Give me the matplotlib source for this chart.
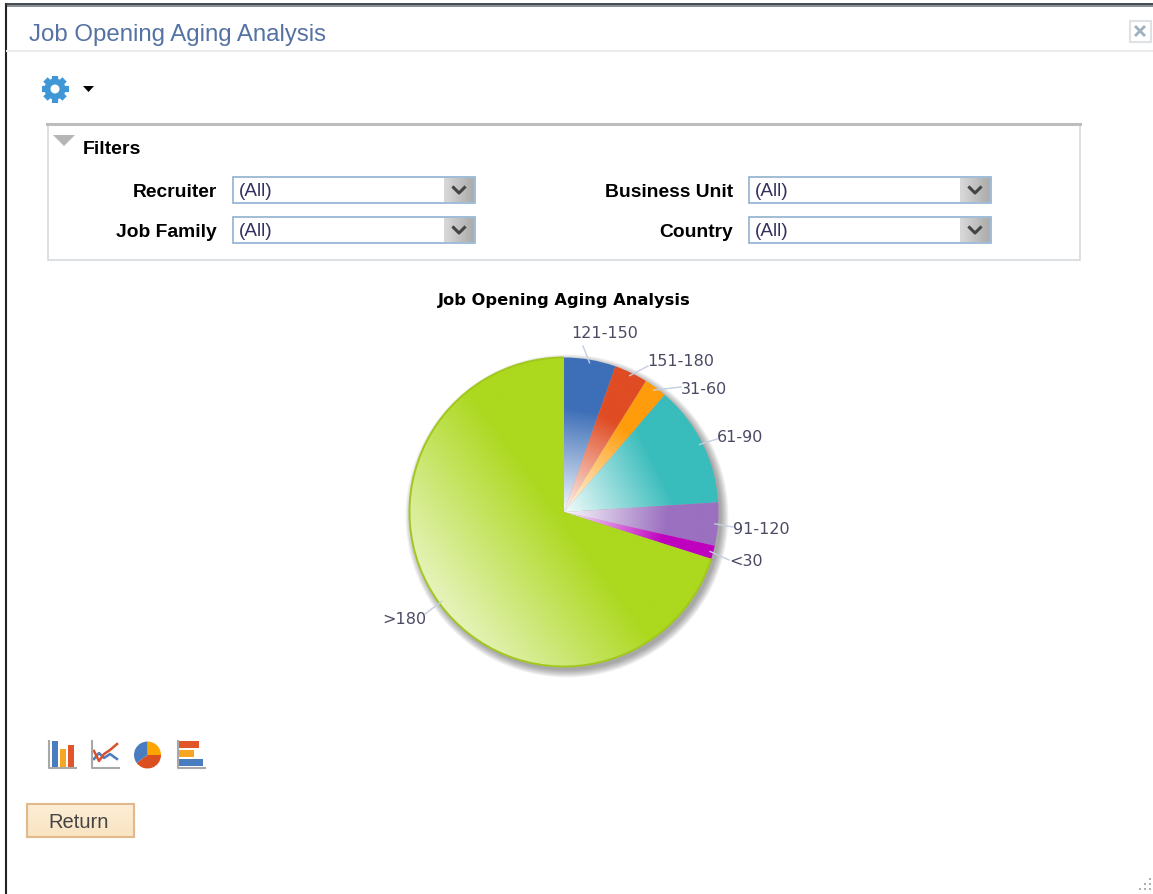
# Job Opening Aging Analysis page, pie chart plus the surrounding form
import numpy as np
import matplotlib
matplotlib.use('Agg')
import matplotlib.pyplot as plt
from matplotlib.colors import LinearSegmentedColormap, to_rgb
from matplotlib.patches import Arc, Circle, Polygon, Rectangle, Wedge

W, H = 1153, 895

# chart data
bucket_labels = ['121-150', '151-180', '31-60', '61-90', '91-120', '<30', '>180']
bucket_values = [5.4, 3.5, 2.4, 12.7, 4.5, 1.4, 70.1]
bucket_colors = ['#3d6fb8', '#e04c24', '#ff9c0c', '#39bcbc', '#9b70c0', '#bf00bf', '#acd81e']

# page text
page_title = 'Job Opening Aging Analysis'
filter_names_left = ['Recruiter', 'Job Family']
filter_names_right = ['Business Unit', 'Country']
filter_value = '(All)'

# little chart type icons under the pie
icon_bar_heights = [26, 18, 22]
icon_bar_colors = ['#4a7cc0', '#f5a623', '#e0562a']
icon_line_a = [8, 14, 9, 13, 8]
icon_line_b = [16, 6, 13, 17, 23]
icon_pie_values = [25, 40, 35]
icon_pie_colors = ['#ffa500', '#dc4f20', '#4a7cc0']
icon_hbar_lengths = [20, 15, 24]
icon_hbar_colors = ['#e0562a', '#f5a623', '#4a7cc0']

CX, CY, R = 564, 513, 154.5

fig = plt.figure(figsize=(W / 100, H / 100), dpi=100)
ax = fig.add_axes([0, 0, 1, 1])


def py(y):
    # screenshot pixels count from the top
    return H - y


def box(x0, y0, x1, y1, **kw):
    ax.add_patch(Rectangle((x0, py(y1)), x1 - x0, y1 - y0, **kw))


def ui_text(x, y, s, size, color='black', weight='normal', ha='left'):
    # 1.8 px: Liberation sits high with va=center
    ax.text(x, py(y + 1.8), s, fontsize=size, color=color, fontweight=weight, ha=ha, va='center',
            family='Liberation Sans', zorder=6)


# shadow goes first, under the pie
for i in range(10):
    ax.add_patch(Circle((CX + 3, py(CY) - 4), R + 7 - i * 0.8, fc='#333333', ec='none', alpha=0.05, zorder=1))

wedges, _ = ax.pie(bucket_values, colors=bucket_colors, startangle=90, counterclock=False,
                   center=(CX, py(CY)), radius=R, frame=False)

# gradient runs along the middle of each slice, light at the hub
# the big slice points lower left and goes the other way, light at the rim
mids = 90 - (np.cumsum(bucket_values) - np.array(bucket_values) / 2) / sum(bucket_values) * 360
for wedge, col, mid in zip(wedges, bucket_colors, mids):
    bb = wedge.get_path().get_extents()
    gx, gy = np.meshgrid(np.linspace(bb.x0, bb.x1, 300), np.linspace(bb.y0, bb.y1, 300))
    dx, dy = np.cos(np.radians(mid)), np.sin(np.radians(mid))
    if dx + dy < 0:
        proj = -(gx - CX) * dx - (gy - py(CY)) * dy
        t = 0.3 + 0.7 * (proj + R) / (R - 5)
    else:
        proj = (gx - CX) * dx + (gy - py(CY)) * dy
        t = 0.05 + proj / (0.7 * R)
    t = np.clip(t, 0, 1)[..., None]
    rgb = np.array(to_rgb(col))
    img = (1 - t) + t * rgb
    im = ax.imshow(img, extent=(bb.x0, bb.x1, bb.y0, bb.y1), origin='lower', aspect='auto',
                   zorder=2, interpolation='bilinear')
    im.set_clip_path(wedge)
    wedge.set_facecolor('none')
    wedge.set_edgecolor('none')

# darker rim, only the green slice shows it
big = wedges[-1]
ax.add_patch(Arc((CX, py(CY)), 2 * R, 2 * R, theta1=big.theta1, theta2=big.theta2, color='#a2c81e', lw=1.4, zorder=3))

# labels, leader starts from the middle of the slice
leader_ends = [(583, 347), (648, 367), (681, 388), (717, 440), (733, 528), (729, 561), (425, 615)]
text_spots = [(571, 334), (647, 362), (681, 389), (717, 437), (733, 529), (729, 562), (426, 619)]
text_align = ['left', 'left', 'left', 'left', 'left', 'left', 'right']
for lab, mid, end, spot, al in zip(bucket_labels, mids, leader_ends, text_spots, text_align):
    sx = CX + 0.98 * R * np.cos(np.radians(mid))
    sy = py(CY) + 0.98 * R * np.sin(np.radians(mid))
    ax.plot([sx, end[0]], [sy, py(end[1])], color='#c4cfdf', lw=1, zorder=4)
    ax.text(spot[0], py(spot[1]), lab, fontsize=11.5, color='#4a4a64', ha=al, va='center', zorder=5)

ax.text(564, py(301), page_title, fontsize=11.7, fontweight='bold', color='black', ha='center', va='center')

# window frame and header
ax.plot([6, 6], [py(5), py(H)], color='#222222', lw=1.5)
box(6, 4, W, 8, fc='#8a9096', ec='none')
ax.plot([6, W], [py(5), py(5)], color='#3a3f44', lw=1.2)
ax.plot([7, W], [py(52), py(52)], color='#ececec', lw=1.5)
ui_text(29, 33, page_title, 17.3, color='#5472a4')

# close button
box(1129.5, 21.5, 1150.5, 42.5, fc='white', ec='#dfe2e5', lw=1.5)
ax.plot([1136, 1144], [py(28), py(36)], color='#9fb0bf', lw=2)
ax.plot([1136, 1144], [py(36), py(28)], color='#9fb0bf', lw=2)

# gear and its small menu arrow
for a in np.arange(0, 180, 45):
    dx, dy = 13.5 * np.cos(np.radians(a)), 13.5 * np.sin(np.radians(a))
    ax.plot([55 - dx, 55 + dx], [py(90) - dy, py(90) + dy], color='#3f97d6', lw=4.5, solid_capstyle='butt', zorder=2)
ax.add_patch(Circle((55, py(90)), 10.5, fc='#3f97d6', ec='none', zorder=3))
ax.add_patch(Circle((55, py(90)), 4.5, fc='white', ec='none', zorder=4))
ax.add_patch(Polygon([(83, py(87)), (94, py(87)), (88.5, py(93))], fc='black', ec='none'))

# filters panel
box(47.5, 124.5, 1080, 261, fc='white', ec='#d6dade', lw=1.2)
ax.plot([47, 1080], [py(124.5), py(124.5)], color='#bdbdbd', lw=2.2)
ax.add_patch(Polygon([(53, py(136)), (75, py(136)), (64, py(147))], fc='#b5b5b5', ec='none'))
ui_text(83, 148, 'Filters', 14, weight='bold')

rows = [190.5, 230.5]
for names, lab_x, sel_x in [(filter_names_left, 217, 233), (filter_names_right, 733, 749)]:
    for name, y in zip(names, rows):
        ui_text(lab_x, y, name, 13.85, weight='bold', ha='right')
        box(sel_x, y - 13, sel_x + 242, y + 13, fc='white', ec='#8fb0cf', lw=1.2)
        ui_text(sel_x + 6, y - 1, filter_value, 13.6, color='#33305e')
        u, v = np.meshgrid(np.linspace(0, 1, 8), np.linspace(0, 1, 8))
        ax.imshow(0.84 - 0.16 * u, cmap='gray', vmin=0, vmax=1, aspect='auto', zorder=3,
                  extent=(sel_x + 211, sel_x + 241, py(y + 12), py(y - 12)))
        cx = sel_x + 226
        ax.plot([cx - 5.5, cx, cx + 5.5], [py(y - 2), py(y + 3.5), py(y - 2)], color='#444444', lw=2.2, zorder=4)


# chart type icons, all sit on a grey axis corner
def icon_axis(x0):
    ax.plot([x0, x0, x0 + 27], [py(742), py(769), py(769)], color='#a8a8a8', lw=1.5, zorder=3)


icon_axis(49)
for i, (h, c) in enumerate(zip(icon_bar_heights, icon_bar_colors)):
    box(52 + i * 8, 768 - h, 58 + i * 8, 768, fc=c, ec='none')

icon_axis(92)
xs = [94, 99, 104, 110, 117]
ax.plot(xs, [py(768) + v for v in icon_line_a], color='#4a7cc0', lw=1.8)
ax.plot(xs, [py(768) + v for v in icon_line_b], color='#d9502a', lw=1.8)

start = 90
for val, c in zip(icon_pie_values, icon_pie_colors):
    ang = val / sum(icon_pie_values) * 360
    ax.add_patch(Wedge((147.5, py(756)), 13.5, start - ang, start, fc=c, ec='none'))
    start -= ang

icon_axis(178)
for i, (ln, c) in enumerate(zip(icon_hbar_lengths, icon_hbar_colors)):
    box(179, 742 + i * 9, 179 + ln, 749 + i * 9, fc=c, ec='none')

# return button
ax.imshow(np.linspace(0.0, 1.0, 16)[:, None], cmap=LinearSegmentedColormap.from_list(
    'btn', ['#fdeed6', '#f9e4c2']), aspect='auto', zorder=2, extent=(26, 134, py(838), py(804)))
box(26.5, 804.5, 133.5, 837.5, fc='none', ec='#e2b98c', lw=1.5, zorder=3)
ui_text(79, 821, 'Return', 14.5, color='#444444', ha='center')

# resize grip, bottom right
for gx, gy in [(1150, 880), (1145, 885), (1150, 885), (1140, 890), (1145, 890), (1150, 890)]:
    box(gx - 1, gy - 1, gx + 1, gy + 1, fc='#b0b0b0', ec='none')

ax.set_xlim(0, W)
ax.set_ylim(0, H)
ax.set_aspect('auto')
ax.axis('off')
fig.savefig('out.png', dpi=100)
plt.close(fig)
